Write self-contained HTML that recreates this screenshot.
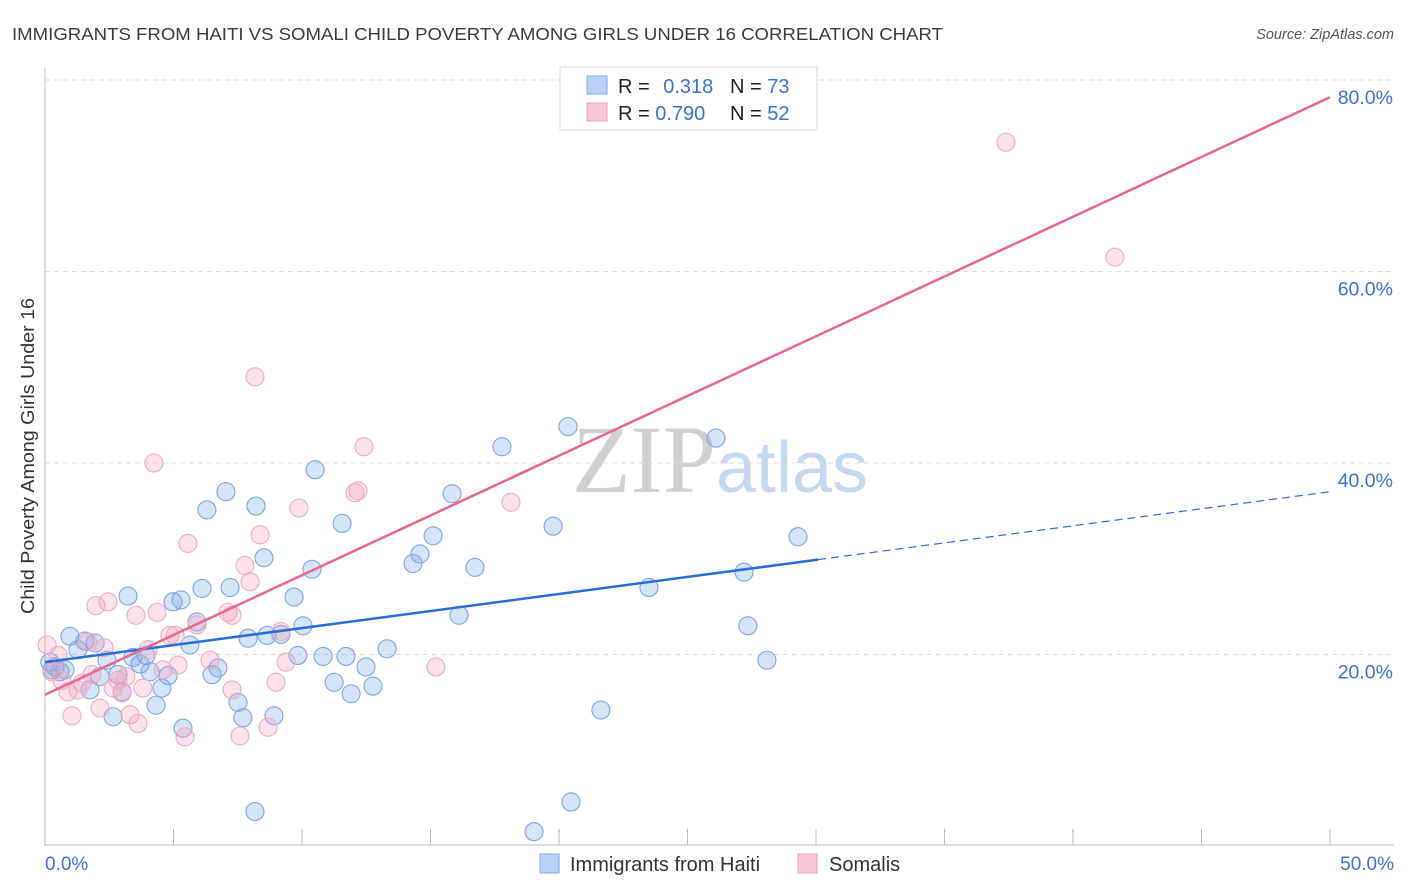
<!DOCTYPE html>
<html><head><meta charset="utf-8"><style>
body{margin:0;background:#fff;font-family:"Liberation Sans",sans-serif}
svg{display:block}
</style></head><body>
<svg id="chart" width="1406" height="892">
<text x="12" y="40" font-size="17.5" fill="#3a3a3a" textLength="931" lengthAdjust="spacingAndGlyphs">IMMIGRANTS FROM HAITI VS SOMALI CHILD POVERTY AMONG GIRLS UNDER 16 CORRELATION CHART</text>
<text x="1394" y="39" font-size="14.5" fill="#555" font-style="italic" text-anchor="end">Source: ZipAtlas.com</text>
<text x="0" y="0" transform="translate(34,456) rotate(-90)" font-size="18" fill="#333" text-anchor="middle" textLength="316" lengthAdjust="spacingAndGlyphs">Child Poverty Among Girls Under 16</text>
<text x="720" y="492" font-size="96" fill="#d0d0d0" text-anchor="middle" font-family="Liberation Serif,serif">ZIP<tspan fill="#c5d8ef" font-family="Liberation Sans,sans-serif" font-size="72">atlas</tspan></text>
<g id="grid"></g><g id="axes"></g><g id="pts"></g><g id="lines"></g>
<g>
<rect x="560" y="67" width="257" height="63" fill="#fff" stroke="#ddd"/>
<rect x="587" y="76" width="20" height="18" fill="#b9d3f5" stroke="#7fa8e0"/>
<rect x="587" y="103" width="20" height="18" fill="#f9c8d6" stroke="#e8a0b6"/>
<text x="618" y="93" font-size="20" fill="#222">R = <tspan fill="#3a73d0" dx="8">0.318</tspan></text>
<text x="730" y="93" font-size="20" fill="#222">N = <tspan fill="#3a73d0">73</tspan></text>
<text x="618" y="120" font-size="20" fill="#222">R = <tspan fill="#3a73d0">0.790</tspan></text>
<text x="730" y="120" font-size="20" fill="#222">N = <tspan fill="#3a73d0">52</tspan></text>
</g>
<g>
<rect x="540" y="854" width="19" height="19" fill="#b9d3f5" stroke="#7fa8e0"/>
<text x="570" y="871" font-size="20" fill="#333">Immigrants from Haiti</text>
<rect x="798" y="854" width="19" height="19" fill="#f9c8d6" stroke="#e8a0b6"/>
<text x="829" y="871" font-size="20" fill="#333">Somalis</text>
</g>
<text x="45" y="870" font-size="19" fill="#3a73d0">0.0%</text>
<text x="1394" y="870" font-size="19" fill="#3a73d0" text-anchor="end">50.0%</text>
</svg>
<script>
const haitiX=[0.19,0.39,0.27,0.58,0.78,0.97,1.28,1.56,1.75,1.95,2.14,2.41,2.65,2.84,3.00,3.23,3.42,3.70,3.93,4.09,4.32,4.55,4.79,4.98,5.29,5.37,5.64,5.91,6.11,6.30,6.50,6.73,7.04,7.20,7.51,7.70,7.90,8.17,8.21,8.52,8.64,8.91,9.18,9.69,9.84,10.04,10.39,10.51,10.82,11.25,11.56,11.71,11.91,12.49,12.76,13.31,14.32,14.59,15.10,15.84,16.11,16.73,17.78,19.03,19.77,20.35,20.47,21.63,23.50,26.11,27.20,27.35,28.09,29.30];
const haitiY=[19.2,18.7,18.4,18.2,18.4,21.9,20.5,21.4,16.3,21.2,17.7,19.4,13.5,17.9,16.1,26.1,19.7,19.0,19.9,18.2,14.7,16.5,17.8,25.5,25.7,12.3,21.0,23.4,26.9,35.1,17.9,18.6,37.0,27.0,15.0,13.4,21.7,3.6,35.5,30.1,22.0,13.6,22.1,26.0,19.9,23.0,28.9,39.3,19.8,17.1,33.7,19.8,15.9,18.7,16.7,20.6,29.5,30.5,32.4,36.8,24.1,29.1,41.7,1.5,33.4,43.8,4.6,14.2,27.0,42.6,28.6,23.0,19.4,32.3];
const somaliX=[0.08,0.27,0.51,0.66,0.89,1.05,1.28,1.44,1.67,1.83,1.98,2.14,2.30,2.45,2.65,2.84,3.00,3.15,3.31,3.54,3.62,3.81,4.01,4.24,4.36,4.59,4.86,5.06,5.18,5.45,5.56,5.91,6.42,7.12,7.28,7.28,7.59,7.78,7.98,8.17,8.37,8.68,8.99,9.18,9.38,9.88,12.06,12.18,12.41,15.21,18.13,37.39,41.63];
const somaliY=[21.0,18.2,19.9,17.3,16.1,13.6,16.3,17.0,21.3,17.9,25.1,14.4,20.7,25.5,16.5,17.3,16.0,17.7,13.7,24.1,12.8,16.5,20.5,40.0,24.4,18.4,22.0,22.0,18.9,11.4,31.6,23.1,19.4,24.4,16.3,24.1,11.5,29.3,27.6,49.0,32.5,12.4,17.1,22.4,19.2,35.3,36.9,37.1,41.7,18.7,35.9,73.5,61.5];
const yTicks=[20,40,60,80];
const yTickLabels=["20.0%","40.0%","60.0%","80.0%"];
const xTicks=[0,5,10,15,20,25,30,35,40,45,50];
const haitiFit=[19.2,0.356,30.08];   // intercept, slope, solid end
const somaliFit=[15.8,1.248];
const X=v=>45+v/50*1285, Y=v=>846-v/20*191.5;
const NS="http://www.w3.org/2000/svg";
function mk(g,t,a){const e=document.createElementNS(NS,t);for(const k in a)e.setAttribute(k,a[k]);document.getElementById(g).appendChild(e);return e;}
yTicks.forEach((v,i)=>{
 const l=mk('grid','line',{x1:45,x2:1394,y1:Y(v),y2:Y(v),stroke:'#ddd','stroke-dasharray':'5,4'});
 
 
 const t=mk('grid','text',{x:1393,y:Y(v)+24,'font-size':19.5,fill:'#3a73d0','text-anchor':'end'});
 t.textContent=yTickLabels[i];
 
 
});
const ax=mk('axes','line',{x1:45,x2:45,y1:68,y2:846,stroke:'#bbb'});


const bx=mk('axes','line',{x1:45,x2:1394,y1:845,y2:845,stroke:'#bbb'});


xTicks.forEach(v=>{
 const t=mk('axes','line',{x1:X(v),x2:X(v),y1:829,y2:845,stroke:'#bbb'});
 
 
});
haitiX.forEach((x,i)=>{
 const c=mk('pts','circle',{cx:X(x),cy:Y(haitiY[i]),r:9,fill:'rgba(120,165,230,0.3)',stroke:'#7aa5e3','stroke-width':1.1});
 
 
});
somaliX.forEach((x,i)=>{
 const c=mk('pts','circle',{cx:X(x),cy:Y(somaliY[i]),r:9,fill:'rgba(245,160,188,0.3)',stroke:'#eeaac0','stroke-width':1.1});
 
 
});
const hf=x=>haitiFit[0]+haitiFit[1]*x;
const l1=mk('lines','line',{x1:X(0),y1:Y(hf(0)),x2:X(haitiFit[2]),y2:Y(hf(haitiFit[2])),stroke:'#2a6ed8','stroke-width':2.5});


const l2=mk('lines','line',{x1:X(haitiFit[2]),y1:Y(hf(haitiFit[2])),x2:X(50),y2:Y(hf(50)),stroke:'#2a6ed8','stroke-width':1.2,'stroke-dasharray':'8,5'});


const sf=x=>somaliFit[0]+somaliFit[1]*x;
const l3=mk('lines','line',{x1:X(0),y1:Y(sf(0)),x2:X(50),y2:Y(sf(50)),stroke:'#e8668f','stroke-width':2.5});


</script>
</body></html>
